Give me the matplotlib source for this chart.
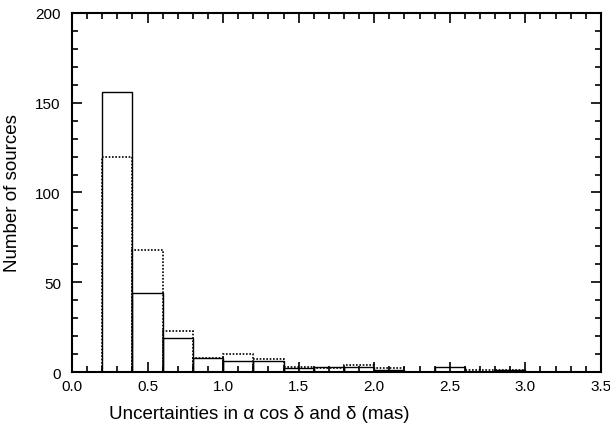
import matplotlib
matplotlib.use("Agg")
import matplotlib.pyplot as plt
import matplotlib.transforms as mtransforms
from matplotlib.ticker import MultipleLocator

plt.rcParams['font.family'] = ['Liberation Sans', 'DejaVu Sans']

bin_left = [0.2, 0.4, 0.6, 0.8, 1.0, 1.2, 1.4, 1.6, 1.8, 2.0, 2.2, 2.4, 2.6, 2.8, 3.0]
solid_counts = [156, 44, 19, 8, 6, 6, 2, 3, 3, 1, 0, 3, 0, 1, 0]
dotted_counts = [120, 68, 23, 8, 10, 7, 3, 2, 4, 2, 0, 0, 1, 1, 0]
bin_width = 0.2

fig = plt.figure(figsize=(6.1, 4.35), dpi=100)
ax = fig.add_axes([0.118, 0.1425, 0.867, 0.8255])

for x, h in zip(bin_left, solid_counts):
    if h > 0:
        ax.bar(x, h, width=bin_width, align='edge', fill=False,
               edgecolor='black', linewidth=1.0, linestyle='-')
for x, h in zip(bin_left, dotted_counts):
    if h > 0:
        ax.bar(x, h, width=bin_width, align='edge', fill=False,
               edgecolor='black', linewidth=1.2, linestyle=(0, (1, 1)))

ax.set_xlim(0, 3.5)
ax.set_ylim(0, 200)
ax.xaxis.set_major_locator(MultipleLocator(0.5))
ax.xaxis.set_minor_locator(MultipleLocator(0.1))
ax.yaxis.set_major_locator(MultipleLocator(50))
ax.yaxis.set_minor_locator(MultipleLocator(10))
ax.xaxis.set_major_formatter(plt.FormatStrFormatter('%.1f'))
ax.tick_params(which='both', direction='in', top=True, right=True, labelsize=11, width=1.2)
ax.tick_params(axis='x', which='major', pad=5)
ax.tick_params(axis='y', which='major', pad=8)
ax.tick_params(which='major', length=7)
ax.tick_params(which='minor', length=4)
for s in ax.spines.values():
    s.set_linewidth(1.5)

ax.set_xlabel('Uncertainties in α cos δ and δ (mas)', fontsize=13.5, labelpad=9, x=0.355)
ax.set_ylabel('Number of sources', fontsize=13.5, labelpad=10)

fig.canvas.draw()
labels = ax.get_xticklabels()
last = labels[-1]
last.set_transform(last.get_transform() + mtransforms.ScaledTranslation(-3 / 100, 0, fig.dpi_scale_trans))

fig.savefig('out.png', dpi=100)
